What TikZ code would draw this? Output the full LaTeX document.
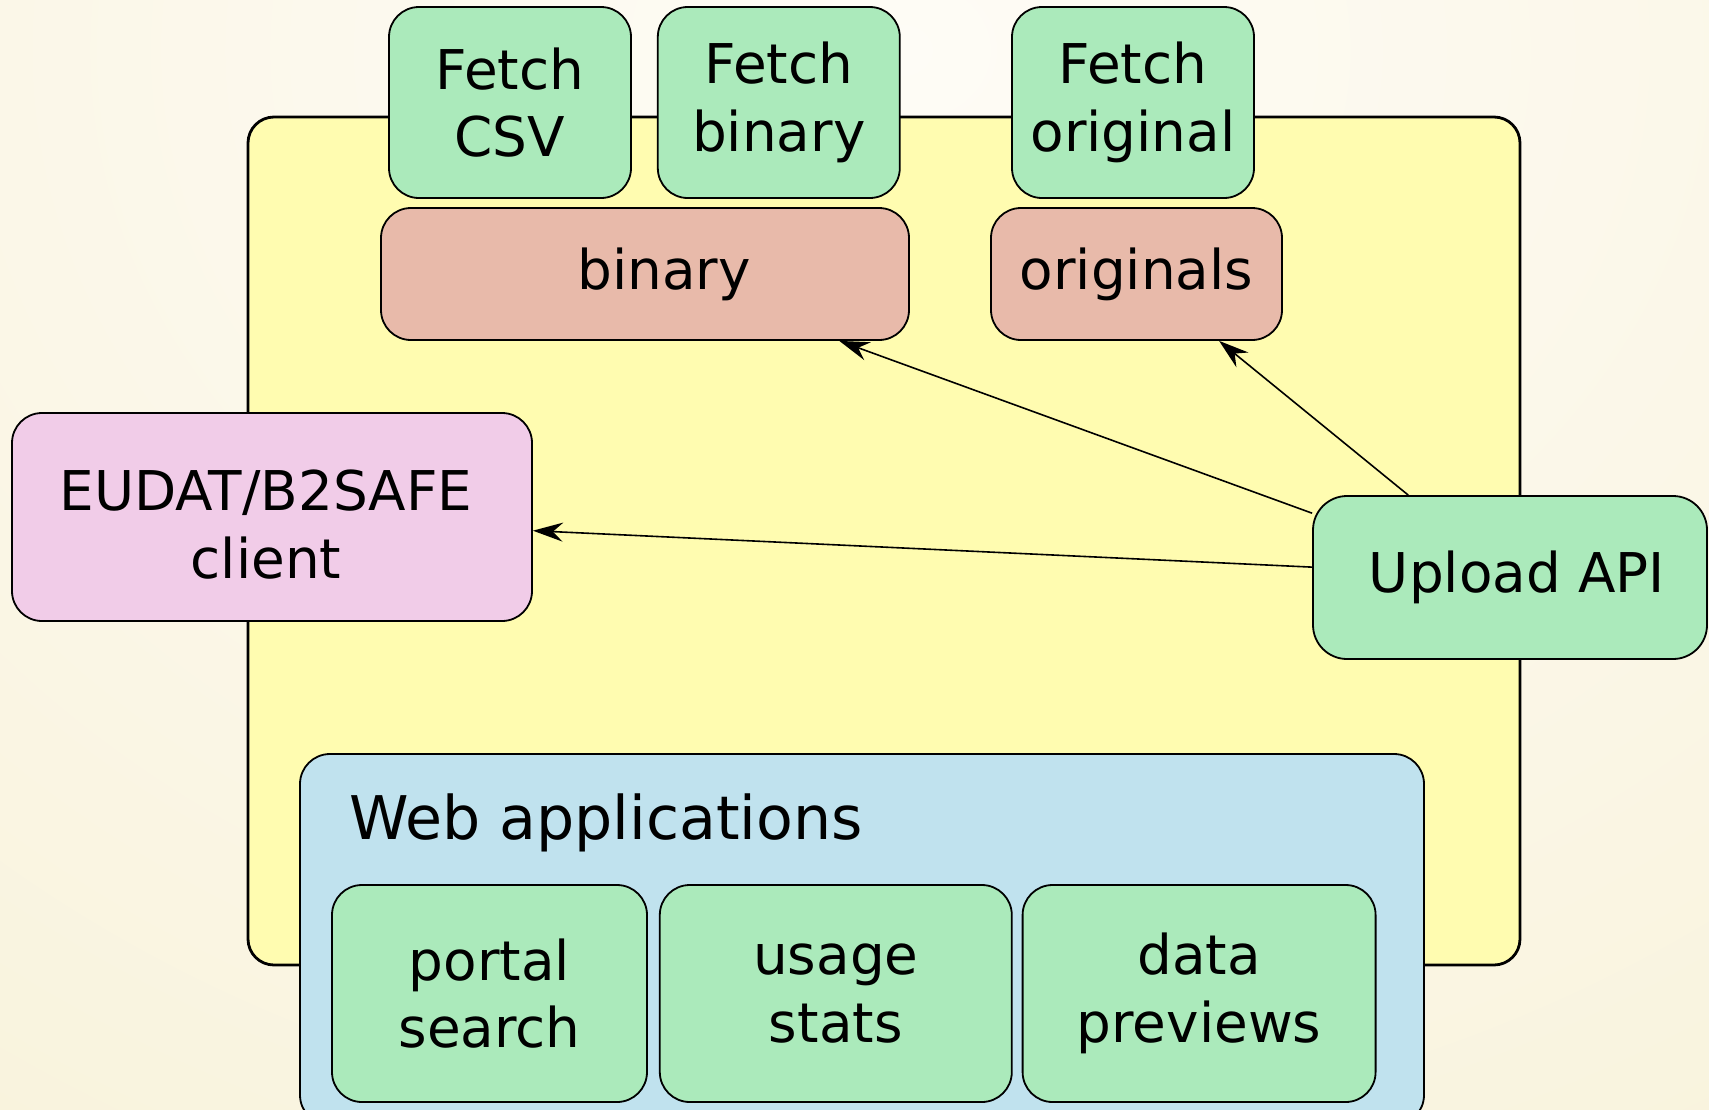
\documentclass[tikz,border=0pt]{standalone}
\usepackage{fontspec}
\setmainfont{DejaVu Sans}
\usetikzlibrary{positioning,arrows.meta}

\definecolor{bglight}{HTML}{FEFCF6}
\definecolor{bgdark}{HTML}{F8F2DA}
\definecolor{coreyellow}{HTML}{FFFCB0}
\definecolor{svcgreen}{HTML}{ABEABB}
\definecolor{storered}{HTML}{E8BAAA}
\definecolor{clientpink}{HTML}{F1CCE8}
\definecolor{webblue}{HTML}{C0E2EE}

\newcommand{\lowered}[1]{\raisebox{-3.8pt}[\height][\depth]{#1}\hspace*{6pt}}

\tikzset{
  box/.style={draw, line width=0.9pt, rounded corners=15pt, align=center, inner sep=0pt},
  service/.style={box, fill=svcgreen},
  store/.style={box, fill=storered, minimum height=66pt},
  fetchbox/.style={service, minimum width=121pt, minimum height=95.5pt},
  appbox/.style={service, minimum height=108.5pt},
  flow/.style={-{Stealth[length=15pt, width=9.5pt, inset=5pt]}, line width=0.8pt}
}

\begin{document}
\begin{tikzpicture}[x=0.5pt, y=-0.5pt, font=\fontsize{27.4}{33.8}\selectfont]
  \useasboundingbox (0,0) rectangle (1709,1109);
  \clip (0,0) rectangle (1709,1109);
  \shade[inner color=bglight, outer color=bgdark] (-900,-1400) rectangle (2700,1500);

  % the core
  \node[box, fill=coreyellow, line width=1.4pt, rounded corners=13pt,
        minimum width=636pt, minimum height=424pt] (core) at (884,541) {};

  % fetch services on top
  \node[fetchbox] (fetchcsv) at (510,102.5) {Fetch\\CSV};
  \node[fetchbox, right=12.5pt of fetchcsv] (fetchbin) {Fetch\\binary};
  \node[fetchbox] (fetchorig) at (1133,102.5) {Fetch\\original};

  % storage
  \node[store, minimum width=264pt] (binary) at (645,274) {\hspace*{19pt}binary};
  \node[store, minimum width=145.5pt] (originals) at (1136.5,274) {originals};

  \node[box, fill=clientpink, minimum width=260pt, minimum height=104pt]
    (eudat) at (272,517) {\lowered{EUDAT/B2SAFE}\\\lowered{client}};
  \node[service, rounded corners=17pt, minimum width=197pt, minimum height=81.5pt]
    (upload) at (1510,577.5) {\hspace*{7pt}Upload API};

  % web applications
  \node[box, fill=webblue, minimum width=562pt, minimum height=185.5pt]
    (webapps) at (862,939.5) {};
  \node[anchor=west, font=\fontsize{30.1}{36}\selectfont] (weblabel) at (342,823) {Web applications};
  \node[appbox, minimum width=157.5pt] (portal) at (489.5,993.5) {portal\\search};
  \node[appbox, minimum width=176pt, right=5.5pt of portal] (usage) {usage\\stats};
  \node[appbox, minimum width=176.5pt, right=4.5pt of usage] (previews) {data\\previews};

  \draw[flow] (upload.162) -- (binary.341);
  \draw[flow] (upload.141) -- (originals.321);
  \draw[flow] (upload.177) -- (eudat.357);
\end{tikzpicture}
\end{document}
